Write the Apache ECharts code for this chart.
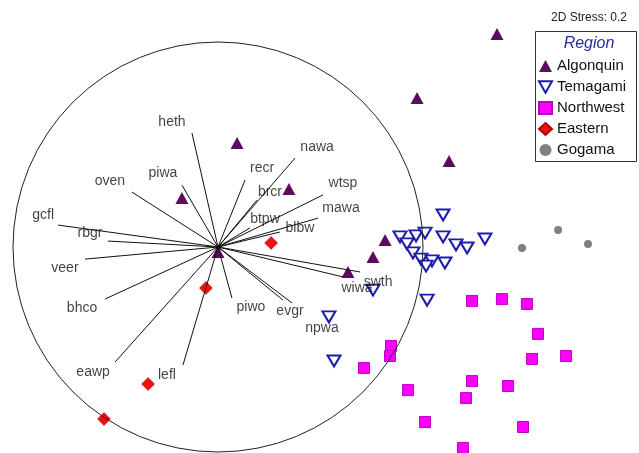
<!DOCTYPE html>
<html>
<head>
<meta charset="utf-8">
<script src="https://cdn.jsdelivr.net/npm/echarts@6/dist/echarts.min.js"></script>
<style>
  html, body { margin: 0; padding: 0; background: #fff; }
  #chart { width: 639px; height: 453px; }
</style>
</head>
<body>
<div id="chart"></div>
<script>
// NMDS ordination, axes scaled so the correlation circle has radius 1.

// Species vectors (end points)
const vectorNames = ['heth','piwa','oven','recr','nawa','brcr','wtsp','mawa','btpw','blbw',
  'gcfl','rbgr','veer','bhco','eawp','lefl','piwo','evgr','npwa','swth','wiwa'];
const vectorX = [-0.127,-0.176,-0.420,0.132,0.376,0.190,0.512,0.488,0.156,0.302,
  -0.780,-0.537,-0.649,-0.551,-0.502,-0.171,0.068,0.317,0.361,0.693,0.610];
const vectorY = [0.556,0.302,0.268,0.327,0.434,0.229,0.254,0.141,0.093,0.073,
  0.107,0.029,-0.059,-0.254,-0.561,-0.576,-0.249,-0.259,-0.273,-0.122,-0.146];

// Site scores by region
const algonquinX = [1.361,0.971,1.127,0.093,-0.176,0.346,0.815,0.756,0.634,0.000];
const algonquinY = [1.039,0.727,0.420,0.507,0.239,0.283,0.034,-0.049,-0.122,-0.024];

const temagamiX = [1.098,0.888,0.966,1.010,0.922,0.951,0.990,1.044,1.015,1.107,1.098,1.161,1.215,1.302,0.756,1.020,0.541,0.566];
const temagamiY = [0.156,0.049,0.054,0.068,0.015,-0.029,-0.059,-0.068,-0.093,-0.078,0.049,0.010,-0.005,0.039,-0.210,-0.259,-0.341,-0.556];

const northwestX = [1.239,1.385,1.507,1.561,1.698,1.532,0.844,0.839,0.712,0.927,1.239,1.415,1.210,1.010,1.488,1.195];
const northwestY = [-0.263,-0.254,-0.278,-0.424,-0.532,-0.546,-0.483,-0.532,-0.590,-0.698,-0.654,-0.678,-0.737,-0.854,-0.878,-0.980];

const easternX = [0.259,-0.059,-0.341,-0.556];
const easternY = [0.020,-0.200,-0.668,-0.839];

const gogamaX = [1.659,1.483,1.805];
const gogamaY = [0.083,-0.005,0.015];

const regionNames = ['Algonquin','Temagami','Northwest','Eastern','Gogama'];
const stressText = '2D Stress: 0.2';

// ---- presentation ----
const FONT = "'Liberation Sans', Arial, sans-serif";
const labelOffsets = {
  heth:[-20,-11], piwa:[-19,-12], oven:[-22,-11], recr:[17,-12], nawa:[22,-11],
  brcr:[13,-8], wtsp:[20,-12], mawa:[23,-10], btpw:[15,-9], blbw:[20,-4],
  gcfl:[-15,-10], rbgr:[-18,-8], veer:[-20,9], bhco:[-23,9], eawp:[-22,10],
  lefl:[-16,10], piwo:[19,9], evgr:[7,11], npwa:[30,25], swth:[18,10], wiwa:[14,11]
};

const zip = (xs, ys) => xs.map((x, i) => [x, ys[i]]);
const invTri = 'path://M0,0 L12,0 L6,10.5 Z';

const chart = echarts.init(document.getElementById('chart'), null, { renderer: 'canvas' });

const option = {
  backgroundColor: '#ffffff',
  animation: false,
  grid: { left: 0, right: 0, top: 0, bottom: 0 },
  xAxis: { type: 'value', min: -218 / 205, max: 421 / 205, show: false, splitLine: { show: false } },
  yAxis: { type: 'value', min: -206 / 205, max: 247 / 205, show: false, splitLine: { show: false } },
  legend: {
    data: regionNames,
    orient: 'vertical',
    left: 538,
    top: 58,
    itemGap: 5,
    itemWidth: 13,
    itemHeight: 12,
    padding: 0,
    textStyle: { fontFamily: FONT, fontSize: 15, color: '#111', lineHeight: 16 }
  },
  graphic: [
    { type: 'rect', shape: { x: 535.5, y: 31.5, width: 101, height: 130 },
      style: { fill: 'none', stroke: '#333', lineWidth: 1 }, z: 10 },
    { type: 'text', x: 589, y: 44, style: { text: 'Region', fontFamily: FONT, fontStyle: 'italic',
      fontSize: 16, fill: '#2a2aa0', align: 'center', verticalAlign: 'middle' }, z: 10 },
    { type: 'text', x: 589, y: 18, style: { text: stressText, fontFamily: FONT,
      fontSize: 12, fill: '#222', align: 'center', verticalAlign: 'middle' }, z: 10 }
  ],
  series: [
    {
      name: 'Algonquin', type: 'scatter', z: 2,
      symbol: 'triangle', symbolSize: [13, 12],
      itemStyle: { color: '#5c0c5e', opacity: 1 },
      data: zip(algonquinX, algonquinY)
    },
    {
      name: 'Temagami', type: 'scatter', z: 2,
      symbol: invTri, symbolSize: [13, 11],
      itemStyle: { color: '#ffffff', borderColor: '#1c1cae', borderWidth: 2, opacity: 1 },
      data: zip(temagamiX, temagamiY)
    },
    {
      name: 'Northwest', type: 'scatter', z: 2,
      symbol: 'rect', symbolSize: 11,
      itemStyle: { color: '#ff00ff', borderColor: '#c000c0', borderWidth: 1, opacity: 1 },
      data: zip(northwestX, northwestY)
    },
    {
      name: 'Eastern', type: 'scatter', z: 2,
      symbol: 'diamond', symbolSize: 13,
      itemStyle: { color: '#ee1111', borderColor: '#b00000', borderWidth: 0.5, opacity: 1 },
      data: zip(easternX, easternY)
    },
    {
      name: 'Gogama', type: 'scatter', z: 2,
      symbol: 'circle', symbolSize: 8,
      itemStyle: { color: '#808080', opacity: 1 },
      data: zip(gogamaX, gogamaY)
    },
    {
      // correlation circle
      type: 'custom', z: 3, silent: true,
      data: [[0, 0]],
      renderItem: function (params, api) {
        const c = api.coord([0, 0]);
        const r = api.size([1, 1])[0];
        return { type: 'circle', shape: { cx: c[0], cy: c[1], r: r },
          style: { fill: 'none', stroke: '#222', lineWidth: 1 } };
      }
    },
    {
      // species vectors
      type: 'lines', coordinateSystem: 'cartesian2d', z: 4, silent: true,
      lineStyle: { color: '#111', width: 1, opacity: 1 },
      data: vectorNames.map((n, i) => ({ coords: [[0, 0], [vectorX[i], vectorY[i]]] }))
    },
    {
      type: 'scatter', z: 5, silent: true,
      symbol: 'circle', symbolSize: 4,
      itemStyle: { color: '#000' },
      data: [[0, 0]]
    },
    {
      // species labels
      type: 'scatter', z: 6, silent: true,
      symbolSize: 0,
      itemStyle: { color: '#000' },
      label: { show: true, position: 'inside', formatter: p => p.name,
        fontFamily: FONT, fontSize: 14, color: '#111',
        textBorderWidth: 0, textBorderColor: 'transparent' },
      data: vectorNames.map((n, i) => ({
        name: n, value: [vectorX[i], vectorY[i]],
        label: { offset: labelOffsets[n] }
      }))
    }
  ]
};

chart.setOption(option);
</script>
</body>
</html>
